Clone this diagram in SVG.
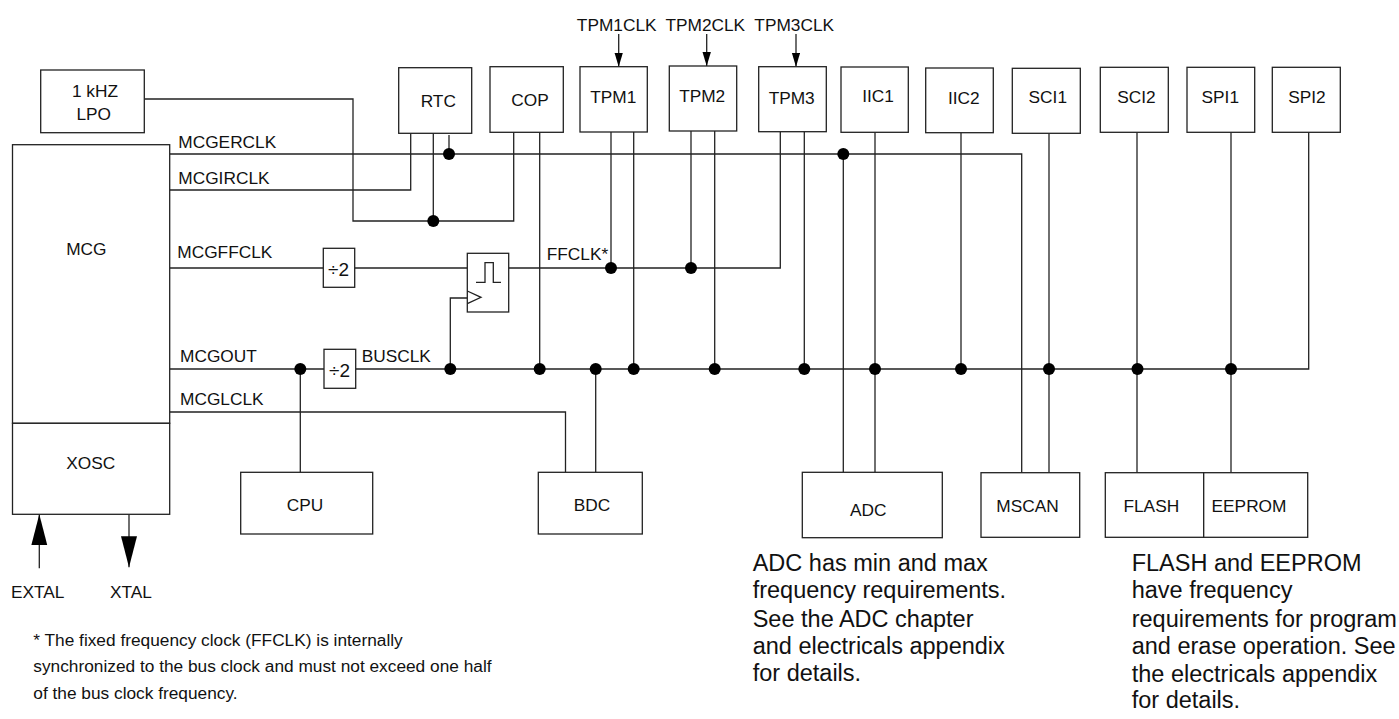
<svg xmlns="http://www.w3.org/2000/svg" width="1399" height="719" viewBox="0 0 1399 719">
<style>
.bx{fill:#fff;stroke:#222;stroke-width:1.3}
.ln{fill:none;stroke:#222;stroke-width:1.3}
.dot{fill:#000}
text{font-family:"Liberation Sans",Arial,Helvetica,sans-serif;font-size:17.3px;fill:#111}
.c{text-anchor:middle}
.note{font-size:23.5px}
.fn{font-size:17.3px}
.div{font-size:19px}
</style>
<defs>
<marker id="aS" markerUnits="userSpaceOnUse" markerWidth="15" markerHeight="9" refX="14" refY="4.2" orient="auto">
<path d="M0,0 L14,4.2 L0,8.4 z" fill="#000"/>
</marker>
<marker id="aL" markerUnits="userSpaceOnUse" markerWidth="32" markerHeight="17" refX="31" refY="8" orient="auto">
<path d="M0,0 L31,8 L0,16 z" fill="#000"/>
</marker>
</defs>
<rect width="1399" height="719" fill="#fff"/>

<g id="connectors">
<polyline class="ln" points="144.3,99 353,99 353,221 513.7,221 513.7,132.3"/>
<polyline class="ln" points="169.7,154 1021.7,154 1021.7,472.7"/>
<line class="ln" x1="449" y1="135" x2="449" y2="154"/>
<line class="ln" x1="843.3" y1="154" x2="843.3" y2="472.3"/>
<polyline class="ln" points="169.7,190 410.7,190 410.7,133.3"/>
<line class="ln" x1="433.3" y1="133.3" x2="433.3" y2="221"/>
<line class="ln" x1="539.7" y1="132.3" x2="539.7" y2="369"/>
<line class="ln" x1="169.7" y1="268" x2="323.3" y2="268"/>
<line class="ln" x1="354.7" y1="268" x2="467.3" y2="268"/>
<polyline class="ln" points="508.7,268 780.3,268 780.3,131.7"/>
<line class="ln" x1="611" y1="132" x2="611" y2="268"/>
<line class="ln" x1="691" y1="131" x2="691" y2="268"/>
<line class="ln" x1="169.7" y1="369" x2="324" y2="369"/>
<polyline class="ln" points="355.7,369 1308.7,369 1308.7,132.3"/>
<polyline class="ln" points="450.3,369 450.3,298 467.3,298"/>
<line class="ln" x1="300.3" y1="369" x2="300.3" y2="472.3"/>
<line class="ln" x1="595.7" y1="369" x2="595.7" y2="472.3"/>
<line class="ln" x1="633.7" y1="132" x2="633.7" y2="369"/>
<line class="ln" x1="714.7" y1="131" x2="714.7" y2="369"/>
<line class="ln" x1="804.3" y1="131.7" x2="804.3" y2="369"/>
<line class="ln" x1="875" y1="132.3" x2="875" y2="472.3"/>
<line class="ln" x1="961" y1="132.7" x2="961" y2="369"/>
<line class="ln" x1="1049" y1="133.3" x2="1049" y2="472.7"/>
<line class="ln" x1="1137" y1="132.3" x2="1137" y2="472.7"/>
<line class="ln" x1="1231" y1="132.3" x2="1231" y2="472.7"/>
<polyline class="ln" points="169.7,412 565.5,412 565.5,472.3"/>
<line class="ln" x1="618.7" y1="34" x2="618.7" y2="66.7" marker-end="url(#aS)"/>
<line class="ln" x1="706.7" y1="34" x2="706.7" y2="66" marker-end="url(#aS)"/>
<line class="ln" x1="796" y1="34" x2="796" y2="66.7" marker-end="url(#aS)"/>
<line class="ln" x1="39.3" y1="568.3" x2="39.3" y2="514.3" marker-end="url(#aL)"/>
<line class="ln" x1="129" y1="514.3" x2="129" y2="567.3" marker-end="url(#aL)"/>
<circle class="dot" cx="449" cy="154" r="6"/>
<circle class="dot" cx="843.3" cy="154" r="6"/>
<circle class="dot" cx="433.3" cy="221" r="6"/>
<circle class="dot" cx="611" cy="268" r="6"/>
<circle class="dot" cx="691" cy="268" r="6"/>
<circle class="dot" cx="300.3" cy="369" r="6"/>
<circle class="dot" cx="450.3" cy="369" r="6"/>
<circle class="dot" cx="539.7" cy="369" r="6"/>
<circle class="dot" cx="595.7" cy="369" r="6"/>
<circle class="dot" cx="633.7" cy="369" r="6"/>
<circle class="dot" cx="714.7" cy="369" r="6"/>
<circle class="dot" cx="804.3" cy="369" r="6"/>
<circle class="dot" cx="875" cy="369" r="6"/>
<circle class="dot" cx="961" cy="369" r="6"/>
<circle class="dot" cx="1049" cy="369" r="6"/>
<circle class="dot" cx="1137.5" cy="369" r="6"/>
<circle class="dot" cx="1231" cy="369" r="6"/>
<text x="178.3" y="148">MCGERCLK</text>
<text x="178.3" y="184.3">MCGIRCLK</text>
<text x="177.3" y="258.3">MCGFFCLK</text>
<text x="180" y="361.7">MCGOUT</text>
<text x="180" y="405">MCGLCLK</text>
<text x="361.7" y="361.7">BUSCLK</text>
<text x="546.7" y="260">FFCLK*</text>
<text class="c" x="616.7" y="30.7">TPM1CLK</text>
<text class="c" x="705.3" y="30.7">TPM2CLK</text>
<text class="c" x="794.2" y="30.7">TPM3CLK</text>
<text x="11" y="598.3">EXTAL</text>
<text x="110" y="598.3">XTAL</text>
</g>

<g id="lpo"><rect class="bx" x="40.7" y="70" width="103.6" height="62.7"/><text class="c" x="95" y="96.7">1 kHZ</text><text class="c" x="93.7" y="120">LPO</text></g>
<g id="mcg"><rect class="bx" x="12.5" y="144.7" width="157.2" height="278.6"/><text class="c" x="86.3" y="255">MCG</text></g>
<g id="xosc"><rect class="bx" x="12.5" y="423.3" width="157.2" height="91"/><text class="c" x="90.8" y="469.3">XOSC</text></g>
<g id="rtc"><rect class="bx" x="398.7" y="67.7" width="73" height="65.6"/><text class="c" x="438.3" y="107.3">RTC</text></g>
<g id="cop"><rect class="bx" x="490" y="66.7" width="73.3" height="65.6"/><text class="c" x="530" y="106">COP</text></g>
<g id="tpm1"><rect class="bx" x="580" y="66.7" width="67.3" height="65.3"/><text class="c" x="613.3" y="102.7">TPM1</text></g>
<g id="tpm2"><rect class="bx" x="669.3" y="66" width="67.4" height="65"/><text class="c" x="702.2" y="102.3">TPM2</text></g>
<g id="tpm3"><rect class="bx" x="758.7" y="66.7" width="67.6" height="65"/><text class="c" x="791.7" y="104.3">TPM3</text></g>
<g id="iic1"><rect class="bx" x="841" y="67" width="67.3" height="65.3"/><text class="c" x="878" y="102.3">IIC1</text></g>
<g id="iic2"><rect class="bx" x="925.7" y="68" width="67.6" height="64.7"/><text class="c" x="963.8" y="104.3">IIC2</text></g>
<g id="sci1"><rect class="bx" x="1012.3" y="68.3" width="68" height="65"/><text class="c" x="1047.8" y="103.3">SCI1</text></g>
<g id="sci2"><rect class="bx" x="1100.3" y="67.3" width="68" height="65"/><text class="c" x="1136.5" y="103.3">SCI2</text></g>
<g id="spi1"><rect class="bx" x="1187" y="67.3" width="67.7" height="65"/><text class="c" x="1220.3" y="103.3">SPI1</text></g>
<g id="spi2"><rect class="bx" x="1272.3" y="67.3" width="68" height="65"/><text class="c" x="1307" y="103.3">SPI2</text></g>
<g id="div-ff"><rect class="bx" x="323.3" y="248.3" width="31.4" height="39"/><text class="c div" x="338.5" y="275.7">÷2</text></g>
<g id="div-bus"><rect class="bx" x="324" y="349.3" width="31.7" height="39"/><text class="c div" x="339.5" y="376.7">÷2</text></g>
<g id="sync"><rect class="bx" x="467.3" y="253.3" width="41.4" height="58.7"/><polyline class="ln" points="476,282.3 485,282.3 485,262.7 493.3,262.7 493.3,282.3 501,282.3"/><polyline class="ln" points="467.3,291 481,297.3 467.3,303.7"/></g>
<g id="cpu"><rect class="bx" x="240.7" y="472.3" width="132" height="61.7"/><text class="c" x="305" y="510.7">CPU</text></g>
<g id="bdc"><rect class="bx" x="538.3" y="472.3" width="104" height="61.7"/><text class="c" x="592" y="510.7">BDC</text></g>
<g id="adc"><rect class="bx" x="802.3" y="472.3" width="140" height="65.4"/><text class="c" x="868.3" y="515.7">ADC</text></g>
<g id="mscan"><rect class="bx" x="981" y="472.7" width="98.7" height="64.6"/><text class="c" x="1027.5" y="512.3">MSCAN</text></g>
<g id="flash"><rect class="bx" x="1105.3" y="472.7" width="98.4" height="64.6"/><text class="c" x="1151.3" y="512.3">FLASH</text></g>
<g id="eeprom"><rect class="bx" x="1203.7" y="472.7" width="104" height="64.6"/><text class="c" x="1249" y="512.3">EEPROM</text></g>

<g id="notes">
<text class="fn" x="33.3" y="646">* The fixed frequency clock (FFCLK) is internally</text>
<text class="fn" x="33.3" y="672">synchronized to the bus clock and must not exceed one half</text>
<text class="fn" x="33.3" y="698.7">of the bus clock frequency.</text>
<text class="note" x="752.7" y="571">ADC has min and max</text>
<text class="note" x="752.7" y="598.3">frequency requirements.</text>
<text class="note" x="752.7" y="626.7">See the ADC chapter</text>
<text class="note" x="752.7" y="654">and electricals appendix</text>
<text class="note" x="752.7" y="680.7">for details.</text>
<text class="note" x="1131.7" y="571">FLASH and EEPROM</text>
<text class="note" x="1131.7" y="598.3">have frequency</text>
<text class="note" x="1131.7" y="626.7">requirements for program</text>
<text class="note" x="1131.7" y="654">and erase operation. See</text>
<text class="note" x="1131.7" y="681.7">the electricals appendix</text>
<text class="note" x="1131.7" y="708.3">for details.</text>
</g>
</svg>
